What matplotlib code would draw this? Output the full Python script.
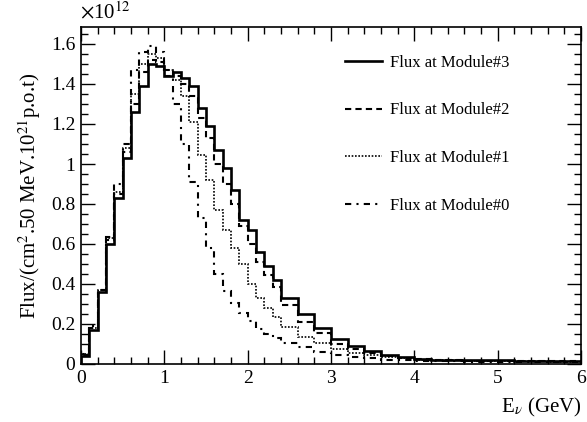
import numpy as np
import matplotlib
matplotlib.use("Agg")
import matplotlib.pyplot as plt
from matplotlib.ticker import MultipleLocator

plt.rcParams['font.family'] = ['Liberation Serif', 'DejaVu Serif']
plt.rcParams['mathtext.fontset'] = 'stix'

# bin edges (GeV): 0.1 wide up to 2.4, then 0.2 wide
edges = np.concatenate([np.arange(0, 2.4, 0.1), np.arange(2.4, 6.001, 0.2)])

# flux in units of 1e12
flux_m3 = [0.04, 0.17, 0.36, 0.60, 0.83, 1.03, 1.26, 1.39, 1.50, 1.49, 1.44, 1.46,
           1.43, 1.39, 1.28, 1.19, 1.07, 0.98, 0.87, 0.72, 0.67, 0.56, 0.49, 0.42,
           0.33, 0.25, 0.18, 0.125, 0.09, 0.065, 0.045, 0.035, 0.025, 0.022, 0.02,
           0.02, 0.018, 0.018, 0.016, 0.016, 0.015, 0.015]
flux_m2 = [0.04, 0.18, 0.37, 0.62, 0.85, 1.06, 1.30, 1.46, 1.52, 1.51, 1.47, 1.44,
           1.40, 1.34, 1.23, 1.13, 1.00, 0.90, 0.80, 0.69, 0.60, 0.51, 0.445, 0.385,
           0.295, 0.21, 0.155, 0.10, 0.075, 0.055, 0.04, 0.032, 0.025, 0.02, 0.018,
           0.017, 0.016, 0.015, 0.014, 0.014, 0.013, 0.013]
flux_m1 = [0.05, 0.18, 0.37, 0.63, 0.86, 1.08, 1.35, 1.50, 1.55, 1.53, 1.47, 1.42,
           1.34, 1.21, 1.045, 0.92, 0.77, 0.67, 0.58, 0.50, 0.40, 0.33, 0.28, 0.235,
           0.185, 0.135, 0.105, 0.075, 0.055, 0.045, 0.035, 0.03, 0.022, 0.02, 0.018,
           0.016, 0.015, 0.014, 0.013, 0.013, 0.012, 0.012]
flux_m0 = [0.05, 0.19, 0.37, 0.635, 0.90, 1.10, 1.47, 1.56, 1.59, 1.56, 1.44, 1.30,
           1.10, 0.91, 0.73, 0.58, 0.45, 0.365, 0.305, 0.255, 0.215, 0.175, 0.15, 0.13,
           0.105, 0.085, 0.06, 0.045, 0.035, 0.028, 0.022, 0.02, 0.016, 0.015, 0.013,
           0.012, 0.012, 0.011, 0.01, 0.01, 0.01, 0.01]

labels = ['Flux at Module#3', 'Flux at Module#2', 'Flux at Module#1', 'Flux at Module#0']

fig = plt.figure(figsize=(5.87, 4.22), dpi=100)
ax = fig.add_axes([81/587, 1-364/422, 500/587, 337/422])

ax.stairs(flux_m3, edges, color='black', lw=1.9, linestyle='-', label=labels[0])
ax.stairs(flux_m2, edges, color='black', lw=1.5, linestyle=(0, (3, 2)), label=labels[1])
ax.stairs(flux_m1, edges, color='black', lw=1.2, linestyle=(0, (1, 1)), label=labels[2])
ax.stairs(flux_m0, edges, color='black', lw=1.5, linestyle=(0, (3, 2.5, 1, 2.5)), label=labels[3])

ax.set_xlim(0, 6)
ax.set_ylim(0, 1.685)
ax.xaxis.set_minor_locator(MultipleLocator(0.2))
ax.yaxis.set_minor_locator(MultipleLocator(0.05))
ax.set_yticks(np.arange(0, 1.61, 0.2))
ax.set_yticklabels(['0', '0.2', '0.4', '0.6', '0.8', '1', '1.2', '1.4', '1.6'])
ax.set_xticks(range(7))
ax.set_xticklabels([str(i) for i in range(7)])

ax.tick_params(which='both', direction='in', top=True, right=True, labelsize=14, width=1)
ax.tick_params(which='major', length=10, pad=4)
ax.tick_params(which='minor', length=5)
for s in ax.spines.values():
    s.set_linewidth(1.2)

ax.set_ylabel('Flux/(cm$^{2}$.50 MeV.10$^{21}$p.o.t)', fontsize=15, labelpad=6)
ax.set_xlabel(r'E$_{\nu}$ (GeV)', fontsize=15, loc='right', labelpad=7)
fig.text(80/587, 1-13/422, r'$\times$10$^{12}$', fontsize=15, ha='left', va='center')

leg = ax.legend(loc='upper left', bbox_to_anchor=(0.498, 0.962), frameon=False,
                fontsize=12, handlelength=2.2, labelspacing=1.9, handletextpad=0.48)

fig.savefig('out.png', dpi=100)
